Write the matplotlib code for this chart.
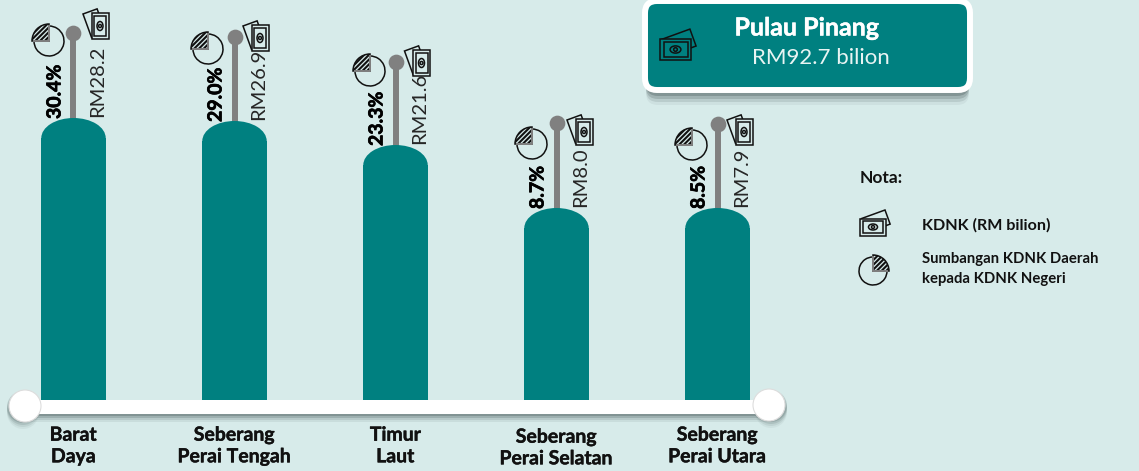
import matplotlib
matplotlib.use("Agg")
import matplotlib.pyplot as plt
import matplotlib.patheffects as pe
from matplotlib.patches import Circle, Ellipse, FancyBboxPatch, Rectangle, Wedge, Arc
from matplotlib.transforms import Affine2D

districts = ["Barat\nDaya", "Seberang\nPerai Tengah", "Timur\nLaut", "Seberang\nPerai Selatan", "Seberang\nPerai Utara"]
gdp_share = ["30.4%", "29.0%", "23.3%", "8.7%", "8.5%"]
gdp_value = ["RM28.2", "RM26.9", "RM21.6", "RM8.0", "RM7.9"]
# bar and stem levels as drawn in the picture, not to scale with the GDP values
bar_level = [282, 279, 255, 192, 192]
stem_level = [367, 363, 338, 277, 276]

BG = "#D7EBEA"
TEAL = "#008080"
GREY = "#808080"
INK = "#111111"
FONT = "Lato"
CAP = 20
HEAVY = [pe.withStroke(linewidth=0.5, foreground="black")]

plt.rcParams["hatch.linewidth"] = 1.5

fig = plt.figure(figsize=(11.39, 4.71), dpi=100, facecolor=BG)

# pixel layer for the frame, icons and notes
px = fig.add_axes([0, 0, 1, 1], zorder=1)
px.set_xlim(0, 1139)
px.set_ylim(471, 0)
px.axis("off")

# chart layer: x in categories, y in levels above the base line
ax = fig.add_axes([0, 0, 1, 1], zorder=2)
ax.set_xlim(-73.5 / 161, (1139 - 73.5) / 161)
ax.set_ylim(-71, 400)
ax.axis("off")

top = fig.add_axes([0, 0, 1, 1], zorder=3)
top.set_xlim(0, 1139)
top.set_ylim(471, 0)
top.axis("off")


def money(a, x, y, scale=1.0, angle=0, fill=BG):
    tr = Affine2D().scale(scale).rotate_deg(angle).translate(x, y) + a.transData
    kw = dict(transform=tr, lw=1.1, ec="#111111", zorder=6)
    a.add_patch(Rectangle((-17, -12), 15, 25, angle=-20, fc=fill, **kw))
    a.add_patch(Rectangle((-8.5, -13), 17, 26, fc=fill, **kw))
    a.add_patch(Rectangle((-6, -10), 12, 20, fc="none", **kw))
    a.add_patch(Ellipse((0, 0), 6, 9, fc="none", **kw))
    a.add_patch(Circle((0, 0), 1.5, fc="none", **kw))


def pie(a, x, y, r, side):
    # angles run clockwise on the flipped axis
    if side == "left":
        t1, t2, dx = 180, 270, -1
    else:
        t1, t2, dx = 270, 360, 1
    a.add_patch(Arc((x, y), 2 * r, 2 * r, theta1=t2, theta2=t1 + 360, lw=1.1, color="#111111", zorder=6))
    a.add_patch(Wedge((x, y), r + 2, t1, t2, fc="none", ec="#111111", hatch="///////", lw=1.1, zorder=6))
    a.plot([x + dx * r, x, x], [y, y, y - r], color=GREY, lw=1.4, zorder=7)


# base line with its shadow
for off, alpha in [(8, 0.08), (6, 0.12), (4, 0.18), (2, 0.25)]:
    px.add_patch(Rectangle((22, 401 + off), 750, 13, fc="#2f4040", ec="none", alpha=alpha, zorder=1))
    px.add_patch(Circle((23, 405 + off), 16, fc="#2f4040", ec="none", alpha=alpha * 0.7, zorder=1))
    px.add_patch(Circle((771, 404 + off), 16, fc="#2f4040", ec="none", alpha=alpha * 0.7, zorder=1))

xs = list(range(len(districts)))
label_y = [-46, -46, -46, -48, -46]
ax.vlines(xs, 0, stem_level, color=GREY, lw=4.3, zorder=1)
ax.scatter(xs, stem_level, s=128, color=GREY, zorder=2, linewidths=0)
ax.bar(xs, [b - CAP for b in bar_level], width=0.4, color=TEAL, zorder=4)
for x, b in zip(xs, bar_level):
    ax.add_patch(Ellipse((x, b - CAP), 0.4, 2 * CAP, fc=TEAL, ec="none", zorder=4))
    ax.text(x - 0.115, b - 1, gdp_share[x], rotation=90, ha="center", va="bottom", fontsize=14,
            fontweight="bold", family=FONT, color="black", zorder=3, path_effects=HEAVY)
    ax.text(x + 0.15, b + 1, gdp_value[x], rotation=90, ha="center", va="bottom", fontsize=14.5,
            family=FONT, color="#262626", zorder=3)
    ax.text(x, label_y[x], districts[x], ha="center", va="center", fontsize=14, fontweight="bold",
            family=FONT, color=INK, linespacing=1.33, path_effects=[pe.withStroke(linewidth=0.3, foreground=INK)])

# white base line on top of the bars' foot
top.add_patch(Rectangle((24, 400), 745, 14, fc="white", ec="none", zorder=2))
top.add_patch(Circle((25, 406), 16, fc="white", ec="#dddddd", lw=0.8, zorder=3))
top.add_patch(Circle((769, 405), 16, fc="white", ec="#dddddd", lw=0.8, zorder=3))

# icons beside each stem
pie_xy = [(49, 41), (208, 49), (370, 71), (532, 144), (692, 145)]
money_xy = [(100, 26), (260, 38), (421.5, 63), (584, 132), (744, 132)]
for (a, b), (c, d) in zip(pie_xy, money_xy):
    pie(top, a, b, 15, "left")
    money(top, c, d)

# state total box
for off, alpha in [(11, 0.06), (8, 0.12), (5, 0.18), (2, 0.25)]:
    px.add_patch(FancyBboxPatch((646, 6 + off), 323, 88, boxstyle="round,pad=0,rounding_size=12",
                                fc="#2f4040", ec="none", alpha=alpha))
px.add_patch(FancyBboxPatch((645, 1), 325, 89, boxstyle="round,pad=0,rounding_size=12", fc=TEAL, ec="white", lw=4.3, zorder=3))
top.text(807, 28, "Pulau Pinang", ha="center", va="center", fontsize=18, fontweight="bold", family=FONT, color="white",
         path_effects=[pe.withStroke(linewidth=0.3, foreground="white")])
top.text(821, 58, "RM92.7 bilion", ha="center", va="center", fontsize=16, family=FONT, color="#E8F4F3")
money(top, 675.5, 49.5, 1.2, 90, fill=TEAL)

# notes
top.text(860, 178, "Nota:", ha="left", va="center", fontsize=12.5, fontweight="bold", family=FONT, color=INK)
money(top, 873, 227, 1.0, 90)
pie(top, 873, 271, 14, "right")
top.text(922, 225, "KDNK (RM bilion)", ha="left", va="center", fontsize=11.6, fontweight="bold", family=FONT, color=INK)
top.text(922, 269, "Sumbangan KDNK Daerah\nkepada KDNK Negeri", ha="left", va="center", fontsize=10.7,
         fontweight="bold", family=FONT, color=INK, linespacing=1.5)

fig.savefig("out.png", dpi=100, facecolor=BG)
